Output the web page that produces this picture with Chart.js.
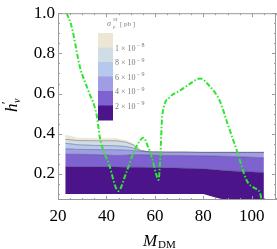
<!DOCTYPE html>
<html>
<head>
<meta charset="utf-8">
<script src="https://cdn.jsdelivr.net/npm/chart.js@4/dist/chart.umd.min.js"></script>
<style>
  html, body { margin: 0; padding: 0; background: #fff; }
  #wrap { width: 277px; height: 249px; }
</style>
</head>
<body>
<div id="wrap"><canvas id="c" width="277" height="249"></canvas></div>
<script>
// axis ticks
const xTicks = [20, 40, 60, 80, 100];
const yTicks = [0.2, 0.4, 0.6, 0.8, 1.0];

// contour bands, sampled along M_DM
const cx = [23, 25, 28, 35, 44, 48, 51, 54, 58, 65, 72, 80, 85, 91, 100, 105];
const bottomEdge = [0.1, 0.1, 0.1, 0.1, 0.1, 0.1, 0.1, 0.1, 0.1, 0.1, 0.1, 0.1, 0.082, 0.065, 0.065, 0.065];
const level2 = [0.235, 0.235, 0.235, 0.235, 0.234, 0.233, 0.233, 0.233, 0.232, 0.23, 0.228, 0.225, 0.22, 0.215, 0.21, 0.207];
const level4 = [0.298, 0.298, 0.298, 0.296, 0.292, 0.293, 0.295, 0.296, 0.294, 0.292, 0.291, 0.29, 0.289, 0.287, 0.283, 0.28];
const level6 = [0.325, 0.324, 0.322, 0.321, 0.32, 0.318, 0.316, 0.312, 0.309, 0.308, 0.308, 0.307, 0.307, 0.307, 0.307, 0.307];
const level8 = [0.352, 0.35, 0.345, 0.342, 0.34, 0.336, 0.328, 0.315, 0.309, 0.308, 0.308, 0.307, 0.307, 0.307, 0.307, 0.307];
const level10 = [0.372, 0.37, 0.366, 0.365, 0.365, 0.358, 0.345, 0.318, 0.309, 0.308, 0.308, 0.307, 0.307, 0.307, 0.307, 0.307];
const topEdge = [0.395, 0.39, 0.38, 0.378, 0.377, 0.368, 0.352, 0.32, 0.309, 0.308, 0.308, 0.307, 0.307, 0.307, 0.307, 0.307];

// band colours, bottom to top
const bandColors = ['#4b148b', '#7e63d0', '#a09de6', '#b6c8ec', '#d1dde4', '#eee6d4'];

// legend labels (top to bottom)
const legendMantissa = ['1', '8', '6', '4', '2'];
const legendExp = ['\u2212 8', '\u2212 9', '\u2212 9', '\u2212 9', '\u2212 9'];

// green dot-dashed curve
const curveX = [23.6, 25.6, 29.1, 32.5, 36, 37.3, 41, 44.9, 48, 51, 53.8, 55.3, 57, 58.8, 60.5, 61.5, 62.3, 62.9, 63.6, 66, 70.4, 74, 78.7, 82, 86.9, 90, 94, 98, 101, 103.4, 104.3];
const curveY = [1.0, 0.935, 0.73, 0.615, 0.49, 0.38, 0.25, 0.115, 0.2, 0.3, 0.365, 0.38, 0.34, 0.28, 0.2, 0.17, 0.3, 0.465, 0.53, 0.58, 0.615, 0.645, 0.675, 0.645, 0.56, 0.45, 0.31, 0.165, 0.13, 0.105, 0.05];

const pts = ys => cx.map((x, i) => ({ x, y: ys[i] }));
const edgeLine = 'rgba(50,50,80,0.55)';

function band(ys, idx, target) {
  return {
    data: pts(ys),
    fill: target,
    backgroundColor: bandColors[idx],
    borderColor: edgeLine,
    borderWidth: 0.7,
    pointRadius: 0,
    tension: 0
  };
}

const serif = '"Liberation Serif", "DejaVu Serif", serif';

const framePlugin = {
  id: 'frame',
  afterDraw(chart) {
    const { ctx, chartArea: a, scales } = chart;
    const xs = scales.x, ys = scales.y;
    ctx.save();
    ctx.strokeStyle = '#9a9a9a';
    ctx.lineWidth = 1;
    ctx.strokeRect(a.left + 0.5, a.top + 0.5, a.right - a.left - 1, a.bottom - a.top - 1);

    // inside ticks on all four sides
    ctx.beginPath();
    for (let v = 20; v <= 110; v += 5) {
      const px = Math.round(xs.getPixelForValue(v)) + 0.5;
      const len = v % 20 === 0 ? 4 : 2;
      ctx.moveTo(px, a.bottom); ctx.lineTo(px, a.bottom - len);
      ctx.moveTo(px, a.top); ctx.lineTo(px, a.top + len);
    }
    for (let k = 2; k <= 20; k++) {
      const v = k * 0.05;
      const py = Math.round(ys.getPixelForValue(v)) + 0.5;
      if (py > a.bottom) continue;
      const len = k % 4 === 0 ? 4 : 2;
      ctx.moveTo(a.left, py); ctx.lineTo(a.left + len, py);
      ctx.moveTo(a.right, py); ctx.lineTo(a.right - len, py);
    }
    ctx.stroke();

    // axis titles
    ctx.fillStyle = '#000';
    ctx.textBaseline = 'alphabetic';
    ctx.textAlign = 'left';
    ctx.font = 'italic 17px ' + serif;
    ctx.fillText('M', 143, 246);
    ctx.font = '11px ' + serif;
    ctx.fillText('DM', 158, 248);

    ctx.translate(17, 112);
    ctx.rotate(-Math.PI / 2);
    ctx.font = 'italic 17px ' + serif;
    ctx.fillText('h', 0, 0);
    ctx.font = '12px ' + serif;
    ctx.fillText('\u2032', 8, -7);
    ctx.font = 'italic 10px ' + serif;
    ctx.fillText('v', 9, 3);
    ctx.restore();

    // contour legend
    ctx.save();
    const bx = 98, bw = 15, by = 33, bh = 14.5;
    for (let i = 0; i < 6; i++) {
      ctx.fillStyle = bandColors[5 - i];
      ctx.fillRect(bx, by + i * bh, bw, bh + 0.5);
    }
    ctx.fillStyle = '#7a7a7a';
    ctx.textBaseline = 'middle';
    legendMantissa.forEach((m, i) => {
      const y = by + (i + 1) * bh;
      ctx.font = '8px ' + serif;
      ctx.fillText(m + ' \u00d7 10', 115, y + 1);
      const w = ctx.measureText(m + ' \u00d7 10').width;
      ctx.font = '6px ' + serif;
      ctx.fillText(legendExp[i], 115 + w + 1, y - 2);
    });
    ctx.font = 'italic 8px ' + serif;
    ctx.fillText('\u03c3', 107, 24);
    ctx.font = '5px ' + serif;
    ctx.fillText('SI', 113, 20);
    ctx.font = 'italic 5px ' + serif;
    ctx.fillText('p', 113, 27);
    ctx.font = '7px ' + serif;
    ctx.fillText('[ pb ]', 120, 24);
    ctx.restore();
  }
};

new Chart(document.getElementById('c'), {
  type: 'line',
  data: {
    datasets: [
      {
        data: curveX.map((x, i) => ({ x, y: curveY[i] })),
        borderColor: '#2ee62e',
        borderWidth: 2,
        borderDash: [5, 2, 1.5, 2],
        pointRadius: 0,
        fill: false,
        cubicInterpolationMode: 'monotone'
      },
      { data: pts(bottomEdge), borderWidth: 0, pointRadius: 0, fill: false },
      band(level2, 0, 1),
      band(level4, 1, 2),
      band(level6, 2, 3),
      band(level8, 3, 4),
      band(level10, 4, 5),
      Object.assign(band(topEdge, 5, 6), { borderWidth: 0 })
    ]
  },
  options: {
    responsive: false,
    animation: false,
    layout: { padding: { top: 11, right: 1, left: 0, bottom: 0 } },
    plugins: { legend: { display: false }, tooltip: { enabled: false } },
    scales: {
      x: {
        type: 'linear',
        min: 20,
        max: 110,
        grid: { display: false, drawTicks: false },
        border: { display: false },
        afterFit: s => { s.height = 49; },
        afterBuildTicks: s => { s.ticks = xTicks.map(v => ({ value: v })); },
        ticks: {
          padding: 6,
          color: '#000',
          maxRotation: 0,
          font: { family: serif, size: 17 },
          callback: v => String(v)
        }
      },
      y: {
        type: 'linear',
        min: 0.07,
        max: 1.0,
        grid: { display: false, drawTicks: false },
        border: { display: false },
        afterFit: s => { s.width = 58; },
        afterBuildTicks: s => { s.ticks = yTicks.map(v => ({ value: v })); },
        ticks: {
          padding: 3,
          color: '#000',
          font: { family: serif, size: 17 },
          callback: v => v.toFixed(1)
        }
      }
    }
  },
  plugins: [framePlugin]
});
</script>
</body>
</html>
